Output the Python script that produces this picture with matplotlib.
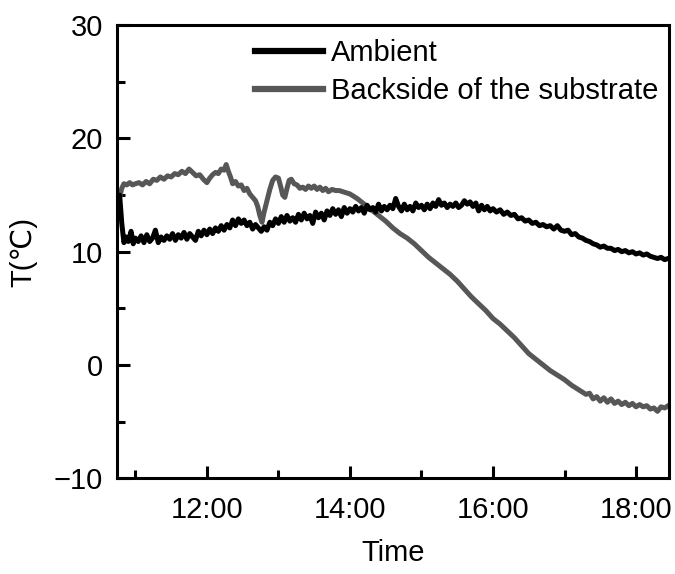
import matplotlib
matplotlib.use("Agg")
import matplotlib.pyplot as plt

plt.rcParams['font.family'] = ['Liberation Sans', 'DejaVu Sans']

# time in hours
amb_t = [10.75, 10.78, 10.81, 10.84, 10.87, 10.90, 10.94, 10.97, 11.00, 11.04, 11.08, 11.12, 11.16, 11.20,
         11.24, 11.28, 11.32, 11.36, 11.40, 11.44, 11.48, 11.52, 11.56, 11.60, 11.64, 11.68, 11.72, 11.76,
         11.80, 11.84, 11.88, 11.92, 11.96, 12.00, 12.04, 12.08, 12.12, 12.16, 12.20, 12.24, 12.28, 12.32,
         12.36, 12.40, 12.44, 12.48, 12.52, 12.56, 12.60, 12.64, 12.68, 12.72, 12.76, 12.80, 12.84, 12.88,
         12.92, 12.96, 13.00, 13.04, 13.08, 13.12, 13.16, 13.20, 13.24, 13.28, 13.32, 13.36, 13.40, 13.44,
         13.48, 13.52, 13.56, 13.60, 13.64, 13.68, 13.72, 13.76, 13.80, 13.84, 13.88, 13.92, 13.96, 14.00,
         14.04, 14.08, 14.12, 14.16, 14.20, 14.24, 14.28, 14.32, 14.36, 14.40, 14.44, 14.48, 14.52, 14.56,
         14.60, 14.64, 14.68, 14.72, 14.76, 14.80, 14.84, 14.88, 14.92, 14.96, 15.00, 15.04, 15.08, 15.12,
         15.16, 15.20, 15.24, 15.28, 15.32, 15.36, 15.40, 15.44, 15.48, 15.52, 15.56, 15.60, 15.64, 15.68,
         15.72, 15.76, 15.80, 15.84, 15.88, 15.92, 15.96, 16.00, 16.05, 16.10, 16.15, 16.20, 16.25, 16.30,
         16.35, 16.40, 16.45, 16.50, 16.55, 16.60, 16.65, 16.70, 16.75, 16.80, 16.85, 16.90, 16.95, 17.00,
         17.05, 17.10, 17.15, 17.20, 17.25, 17.30, 17.35, 17.40, 17.45, 17.50, 17.55, 17.60, 17.65, 17.70,
         17.75, 17.80, 17.85, 17.90, 17.95, 18.00, 18.05, 18.10, 18.15, 18.20, 18.25, 18.30, 18.35, 18.40,
         18.45]
amb_v = [14.8, 15.0, 12.5, 10.8, 11.3, 10.9, 11.8, 10.7, 11.2, 10.9, 11.4, 10.8, 11.5, 10.9,
         11.2, 11.9, 10.8, 11.3, 11.0, 11.4, 11.1, 11.6, 11.0, 11.5, 11.2, 11.7, 11.1, 11.6,
         11.3, 11.0, 11.8, 11.4, 11.9, 11.5, 12.0, 11.6, 12.1, 11.8, 12.3, 11.9, 12.4, 12.1,
         12.8, 12.3, 12.9, 12.5, 12.8, 12.3, 12.6, 12.0, 12.4, 12.1, 11.8, 12.2, 11.9, 12.6,
         12.3, 12.9, 12.5, 13.1, 12.6, 13.2, 12.7, 13.0, 12.6, 13.3, 12.8, 13.4, 12.9, 13.2,
         12.5, 13.5, 13.0, 13.4, 12.8, 13.6, 13.2, 13.8, 13.3, 13.7, 13.1, 13.9, 13.4, 13.8,
         13.5, 14.0, 13.6, 13.9, 13.4, 14.1, 13.7, 13.9, 13.5, 14.2, 13.6, 14.0, 13.7, 14.1,
         13.8, 14.7, 14.0, 13.6, 14.2, 13.7, 14.0, 13.6, 14.3, 13.9, 14.1, 13.7, 14.2, 13.8,
         14.3, 14.0, 14.6, 14.1, 14.3, 13.9, 14.2, 14.0, 14.3, 13.9, 14.1, 14.5, 14.2, 14.4,
         14.0, 14.3, 13.6, 14.1, 13.7, 14.0, 13.6, 13.8, 13.5, 13.7, 13.3, 13.5, 13.2, 13.3,
         12.9, 13.0, 12.7, 12.8, 12.5, 12.6, 12.3, 12.4, 12.2, 12.3, 12.0, 12.3, 11.9, 11.8,
         11.9, 11.5, 11.6, 11.3, 11.2, 11.0, 10.9, 10.7, 10.6, 10.4, 10.5, 10.3, 10.3, 10.1,
         10.2, 10.0, 10.1, 9.9, 10.0, 9.8, 9.9, 9.7, 9.8, 9.6, 9.5, 9.4, 9.5, 9.3,
         9.4]

back_t = [10.75, 10.78, 10.81, 10.84, 10.88, 10.92, 10.96, 11.00, 11.05, 11.10, 11.15, 11.20, 11.25, 11.30,
          11.35, 11.40, 11.45, 11.50, 11.55, 11.60, 11.65, 11.70, 11.75, 11.80, 11.85, 11.90, 11.95, 12.00,
          12.04, 12.08, 12.12, 12.16, 12.20, 12.24, 12.27, 12.30, 12.33, 12.36, 12.40, 12.44, 12.48, 12.52,
          12.56, 12.60, 12.64, 12.68, 12.71, 12.74, 12.77, 12.80, 12.84, 12.88, 12.92, 12.96, 13.00, 13.03,
          13.06, 13.09, 13.12, 13.15, 13.18, 13.22, 13.26, 13.30, 13.34, 13.38, 13.42, 13.46, 13.50, 13.54,
          13.58, 13.62, 13.66, 13.70, 13.75, 13.80, 13.85, 13.90, 13.95, 14.00, 14.10, 14.20, 14.30, 14.40,
          14.50, 14.60, 14.70, 14.80, 14.90, 15.00, 15.10, 15.20, 15.30, 15.40, 15.50, 15.60, 15.70, 15.80,
          15.90, 16.00, 16.10, 16.20, 16.30, 16.40, 16.50, 16.60, 16.70, 16.80, 16.90, 17.00, 17.10, 17.20,
          17.30, 17.35, 17.40, 17.45, 17.50, 17.55, 17.60, 17.65, 17.70, 17.75, 17.80, 17.85, 17.90, 17.95,
          18.00, 18.05, 18.10, 18.15, 18.20, 18.25, 18.30, 18.35, 18.40, 18.45]
back_v = [14.5, 14.8, 15.6, 16.0, 15.9, 16.1, 15.9, 16.0, 16.1, 15.9, 16.2, 16.0, 16.4, 16.3,
          16.6, 16.4, 16.7, 16.6, 16.9, 16.8, 17.1, 16.9, 17.3, 17.0, 16.7, 16.8, 16.4, 16.1,
          16.5, 16.8, 17.0, 16.9, 17.3, 17.2, 17.7, 17.1, 16.6, 16.0, 16.2, 15.8, 15.9, 15.4,
          15.6, 15.1, 14.8, 14.5, 14.0, 13.2, 12.6, 13.5, 14.5, 15.5, 16.3, 16.6, 16.5, 15.8,
          15.0, 14.8, 15.6, 16.3, 16.4, 16.0, 15.9, 15.6, 15.7, 15.5, 15.8, 15.6, 15.8, 15.5,
          15.7, 15.4, 15.6, 15.3, 15.5, 15.4, 15.4, 15.3, 15.2, 15.1, 14.7, 14.2, 13.7, 13.2,
          12.7, 12.1, 11.6, 11.2, 10.7, 10.1, 9.5, 9.0, 8.5, 8.0, 7.4, 6.7, 6.0, 5.4,
          4.8, 4.1, 3.6, 3.0, 2.4, 1.7, 1.0, 0.5, 0.0, -0.5, -0.9, -1.3, -1.8, -2.2,
          -2.6, -2.5, -3.0, -2.8, -3.2, -2.9, -3.3, -3.0, -3.4, -3.2, -3.5, -3.3, -3.6, -3.4,
          -3.7, -3.5, -3.7, -3.6, -3.9, -3.8, -4.1, -3.7, -3.8, -3.6]

x_ticks = [12, 14, 16, 18]
x_tick_labels = ["12:00", "14:00", "16:00", "18:00"]
x_minor = [11, 13, 15, 17]
y_ticks = [-10, 0, 10, 20, 30]
y_tick_labels = ['\u221210', '0', '10', '20', '30']
y_minor = [-5, 5, 15, 25]

fig = plt.figure(figsize=(6.75, 5.74), dpi=100)
ax = fig.add_axes([0.173, 0.167, 0.818, 0.789])

ax.plot(amb_t, amb_v, color='black', lw=3.6, label='Ambient', zorder=3)
ax.plot(back_t, back_v, color='#575757', lw=3.6, label='Backside of the substrate', zorder=2)

ax.set_xlim(10.74, 18.46)
ax.set_ylim(-10, 30)
ax.set_xticks(x_ticks)
ax.set_xticklabels(x_tick_labels)
ax.set_xticks(x_minor, minor=True)
ax.set_yticks(y_ticks)
ax.set_yticklabels(y_tick_labels)
ax.set_yticks(y_minor, minor=True)

for s in ax.spines.values():
    s.set_linewidth(2.2)
ax.tick_params(which='major', direction='in', length=9, width=2.2, labelsize=21)
ax.tick_params(axis='x', which='major', pad=13)
ax.tick_params(axis='y', which='major', pad=10)
ax.tick_params(which='minor', direction='in', length=6, width=2.2)

ax.set_xlabel('Time', fontsize=21, labelpad=11)
ax.set_ylabel('T(\u2103)', fontsize=21, labelpad=12)

leg = ax.legend(loc='upper left', bbox_to_anchor=(0.23, 0.995), frameon=False, fontsize=21,
                handlelength=2.3, handletextpad=0.3, labelspacing=0.35, borderaxespad=0)
for line in leg.get_lines():
    line.set_linewidth(4.5)

fig.savefig('out.png', dpi=100)
